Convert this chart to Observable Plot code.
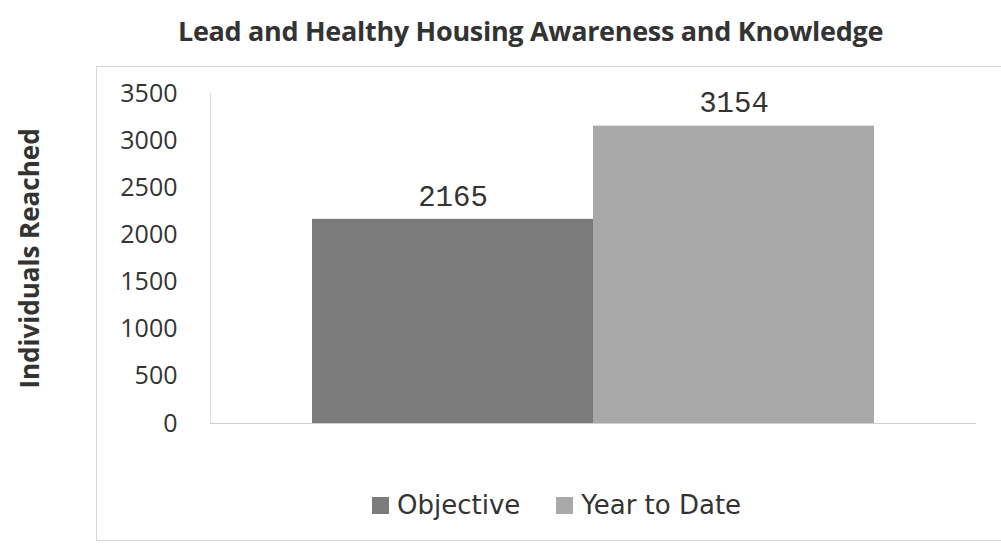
<!DOCTYPE html>
<html><head><meta charset="utf-8">
<script src="https://cdn.jsdelivr.net/npm/d3@7"></script>
<script src="https://cdn.jsdelivr.net/npm/@observablehq/plot@0.6"></script>
<style>
body{margin:0;background:#fff;width:1001px;height:548px;overflow:hidden;position:relative;font-family:"Open Sans",sans-serif;}
#title{position:absolute;left:0;width:1061px;top:13px;text-align:center;font-weight:bold;font-size:27px;line-height:36px;color:#333;letter-spacing:-0.3px;}
#frame{position:absolute;left:96px;top:66px;width:1000px;height:473px;border:1.5px solid #d6d6d6;}
#chart{position:absolute;left:0;top:65px;}
#legend{position:absolute;top:490px;left:372px;display:flex;align-items:center;font-family:"DejaVu Sans",sans-serif;font-size:26px;color:#333;}
.item{display:flex;align-items:center;margin-right:36px;}
.sw{width:17px;height:17px;margin-right:8px;}
g[aria-label="y-axis label"] text{font-weight:bold;font-size:26px;font-family:"Open Sans",sans-serif;}
</style></head>
<body>
<div id="title">Lead and Healthy Housing Awareness and Knowledge</div>
<div id="frame"></div>
<div id="chart"></div>
<div id="legend"></div>
<script>
const categories = ["Objective", "Year to Date"];
const values = [2165, 3154];
const yTicks = [0, 500, 1000, 1500, 2000, 2500, 3000, 3500];
const colors = ["#7b7b7b", "#a9a9a9"];
const yLabel = "Individuals Reached";

const data = categories.map((c, i) => ({cat: c, value: values[i]}));

const chart = Plot.plot({
  width: 1001,
  height: 400,
  marginLeft: 210,
  marginRight: 26,
  marginTop: 28,
  marginBottom: 42,
  style: {background: "transparent", color: "#333", fontFamily: "Open Sans, sans-serif"},
  x: {domain: categories, paddingInner: 0, paddingOuter: 0.36, axis: null},
  y: {domain: [0, 3500], axis: null},
  color: {domain: categories, range: colors},
  marks: [
    Plot.frame({anchor: "left", stroke: "#d9d9d9"}),
    Plot.barY(data, {x: "cat", y: "value", fill: "cat"}),
    Plot.frame({anchor: "bottom", stroke: "#cfcfcf"}),
    Plot.text(data, {x: "cat", y: "value", text: d => String(d.value), dy: -23, fontFamily: "Liberation Mono, monospace", fontSize: 29, fill: "#333"}),
    Plot.axisY({ticks: yTicks, tickSize: 0, tickPadding: 33, fontSize: 25, tickFormat: d => String(d), label: yLabel, labelAnchor: "center", labelOffset: 190, labelArrow: "none"})
  ]
});
document.getElementById("chart").appendChild(chart);

const legend = document.getElementById("legend");
categories.forEach((c, i) => {
  const it = document.createElement("div");
  it.className = "item";
  const sw = document.createElement("div");
  sw.className = "sw";
  sw.style.background = colors[i];
  const t = document.createElement("span");
  t.textContent = c;
  it.appendChild(sw); it.appendChild(t);
  legend.appendChild(it);
});
</script>
</body></html>
